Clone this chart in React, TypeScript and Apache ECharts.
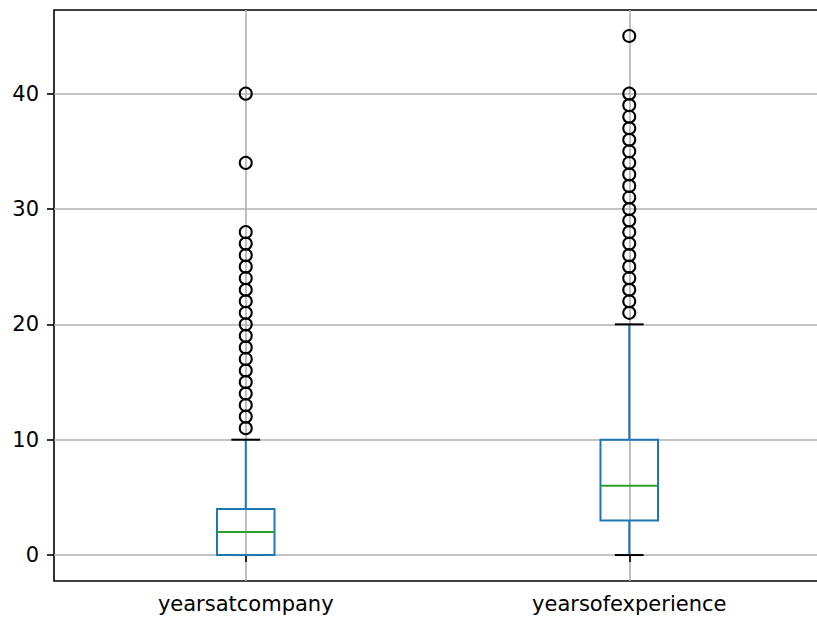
import React, { useEffect, useRef } from "react";
import * as echarts from "echarts";

const categories = ["yearsatcompany", "yearsofexperience"];
const whiskerLow = [0, 0];
const quartile1 = [0, 3];
const medians = [2, 6];
const quartile3 = [4, 10];
const whiskerHigh = [10, 20];
const outliersAtCompany = [11, 12, 13, 14, 15, 16, 17, 18, 19, 20, 21, 22, 23, 24, 25, 26, 27, 28, 34, 40];
const outliersExperience = [21, 22, 23, 24, 25, 26, 27, 28, 29, 30, 31, 32, 33, 34, 35, 36, 37, 38, 39, 40, 45];
const yTicks = [0, 10, 20, 30, 40];

const BLUE = "#1f77b4";
const GREEN = "#2ca02c";
const GRID = "#b0b0b0";
const FONT = "DejaVu Sans";

export default function App() {
  const ref = useRef<HTMLDivElement>(null);
  useEffect(() => {
    const chart = echarts.init(ref.current!, null, { renderer: "svg" });
    const boxData = categories.map((_, i) => [
      i,
      whiskerLow[i],
      quartile1[i],
      medians[i],
      quartile3[i],
      whiskerHigh[i],
    ]);
    const outlierData = [
      ...outliersAtCompany.map((v) => [0, v]),
      ...outliersExperience.map((v) => [1, v]),
    ];
    const gridLineData: any[] = [
      ...yTicks.map((v) => ({ yAxis: v })),
      ...categories.map((c) => ({ xAxis: c })),
    ];
    chart.setOption({
      animation: false,
      grid: {
        left: 54,
        top: 10,
        width: 767,
        height: 571,
        show: true,
        borderColor: "#000",
        borderWidth: 1.6,
        backgroundColor: "transparent",
      },
      xAxis: {
        type: "category",
        data: categories,
        axisLine: { show: false },
        axisTick: {
          show: true,
          alignWithLabel: true,
          length: 7,
          lineStyle: { color: "#000", width: 1.6 },
        },
        axisLabel: { color: "#000", fontSize: 21, fontFamily: FONT, margin: 12 },
        splitLine: { show: false },
      },
      yAxis: {
        type: "value",
        min: -2.25,
        max: 47.25,
        axisLine: { show: false },
        axisTick: {
          show: true,
          length: 7,
          customValues: yTicks,
          lineStyle: { color: "#000", width: 1.6 },
        },
        axisLabel: {
          color: "#000",
          fontSize: 21,
          fontFamily: FONT,
          margin: 15,
          customValues: yTicks,
        },
        splitLine: { show: false },
      },
      series: [
        {
          type: "scatter",
          data: [],
          z: 0,
          silent: true,
          markLine: {
            z: 0,
            silent: true,
            symbol: ["none", "none"],
            label: { show: false },
            lineStyle: { color: GRID, width: 1.6, type: "solid" },
            emphasis: { disabled: true },
            data: gridLineData,
          },
        },
        {
          type: "custom",
          z: 2,
          data: boxData,
          encode: { x: 0, y: [1, 2, 3, 4, 5] },
          renderItem: (params: any, api: any) => {
            const idx = api.value(0);
            const low = api.coord([idx, api.value(1)]);
            const q1 = api.coord([idx, api.value(2)]);
            const med = api.coord([idx, api.value(3)]);
            const q3 = api.coord([idx, api.value(4)]);
            const high = api.coord([idx, api.value(5)]);
            const band = api.size([1, 0])[0];
            const hw = band * 0.075;
            const cw = hw / 2;
            const x = low[0];
            const lw = 2;
            return {
              type: "group",
              children: [
                { type: "line", shape: { x1: x, y1: q1[1], x2: x, y2: low[1] }, style: { stroke: BLUE, lineWidth: lw } },
                { type: "line", shape: { x1: x, y1: q3[1], x2: x, y2: high[1] }, style: { stroke: BLUE, lineWidth: lw } },
                { type: "line", shape: { x1: x - cw, y1: low[1], x2: x + cw, y2: low[1] }, style: { stroke: "#000", lineWidth: lw } },
                { type: "line", shape: { x1: x - cw, y1: high[1], x2: x + cw, y2: high[1] }, style: { stroke: "#000", lineWidth: lw } },
                {
                  type: "rect",
                  shape: { x: x - hw, y: q3[1], width: 2 * hw, height: q1[1] - q3[1] },
                  style: { fill: "none", stroke: BLUE, lineWidth: lw },
                },
                { type: "line", shape: { x1: x - hw, y1: med[1], x2: x + hw, y2: med[1] }, style: { stroke: GREEN, lineWidth: lw } },
              ],
            };
          },
        },
        {
          type: "scatter",
          z: 3,
          data: outlierData,
          symbol: "circle",
          symbolSize: 12,
          itemStyle: { color: "rgba(0,0,0,0)", borderColor: "#000", borderWidth: 2, opacity: 1 },
        },
      ],
    });
    return () => chart.dispose();
  }, []);
  return (
    <div style={{ position: "absolute", left: 0, top: 0, width: 817, height: 620, overflow: "hidden", background: "#fff" }}>
      <div ref={ref} style={{ position: "absolute", left: 0, top: 0, width: 840, height: 620 }} />
    </div>
  );
}
